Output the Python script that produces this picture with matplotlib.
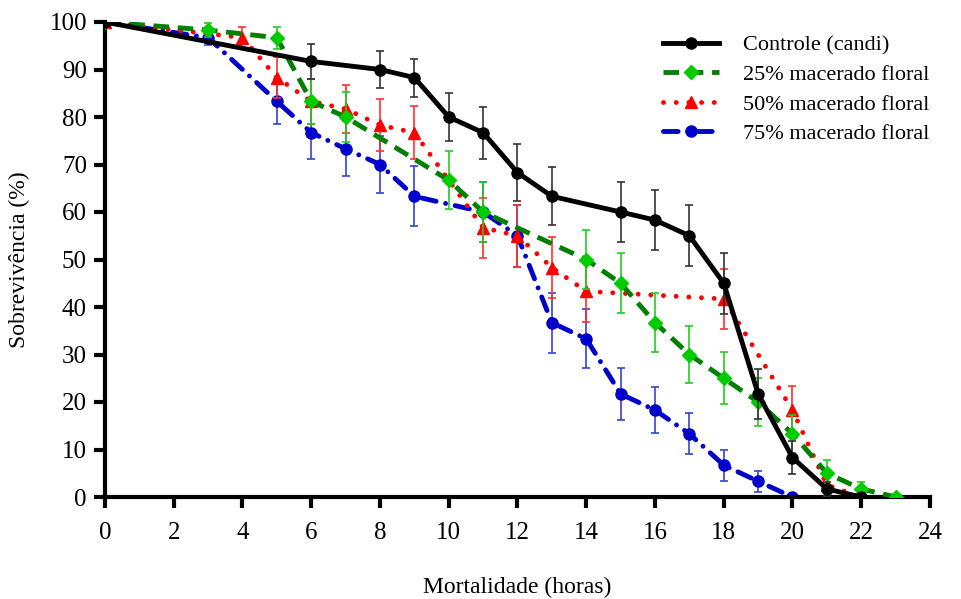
import numpy as np
import matplotlib.pyplot as plt

# Survival data (hours vs % survival, with error)
x_ctrl = [0, 6, 8, 9, 10, 11, 12, 13, 15, 16, 17, 18, 19, 20, 21, 22]
y_ctrl = [100, 91.7, 90, 88.3, 80, 76.7, 68.3, 63.3, 60, 58.3, 55, 45, 21.7, 8.3, 1.7, 0]
e_ctrl = [0, 3.6, 3.8, 4.0, 5.0, 5.5, 6.0, 6.1, 6.3, 6.4, 6.4, 6.4, 5.3, 3.5, 1.5, 0]

x_25 = [0, 3, 5, 6, 7, 10, 11, 14, 15, 16, 17, 18, 19, 20, 21, 22, 23]
y_25 = [100, 98.3, 96.7, 83.3, 80, 66.7, 60, 50, 45, 36.7, 30, 25, 20, 13.3, 5, 1.7, 0]
e_25 = [0, 1.5, 2.3, 4.7, 5.2, 6.1, 6.3, 6.3, 6.3, 6.2, 5.9, 5.5, 5.0, 4.0, 2.8, 1.5, 0]

x_50 = [0, 4, 5, 6, 7, 8, 9, 11, 12, 13, 14, 18, 20, 21, 22]
y_50 = [100, 96.7, 88.3, 83.3, 81.7, 78.3, 76.7, 56.7, 55, 48.3, 43.3, 41.7, 18.3, 2.5, 0]
e_50 = [0, 2.3, 4.3, 4.8, 5.0, 5.4, 5.6, 6.3, 6.5, 6.5, 6.4, 6.3, 5.0, 1.5, 0]

x_75 = [0, 3, 5, 6, 7, 8, 9, 11, 12, 13, 14, 15, 16, 17, 18, 19, 20]
y_75 = [100, 96.7, 83.3, 76.7, 73.3, 70, 63.3, 60, 55, 36.7, 33.3, 21.7, 18.3, 13.3, 6.7, 3.3, 0]
e_75 = [0, 1.5, 4.8, 5.5, 5.8, 6.0, 6.3, 6.3, 6.5, 6.3, 6.2, 5.4, 4.9, 4.3, 3.3, 2.2, 0]

plt.rcParams['font.family'] = ['Liberation Serif', 'DejaVu Serif']

fig = plt.figure(figsize=(9.62, 5.99), dpi=100)
ax = fig.add_axes([105/962, 102/599, 825/962, 475/599])

ax.errorbar(x_75, y_75, yerr=e_75, color='#0000cc', ecolor='#3344cc', elinewidth=1.2,
            capsize=3, capthick=1.2, marker='o', markersize=8, lw=3.5,
            linestyle=(0, (3, 2, 0.01, 2)), dash_capstyle='round',
            label='75% macerado floral', zorder=2)
ax.errorbar(x_50, y_50, yerr=e_50, color='#ff0000', ecolor='#ff3030', elinewidth=1.2,
            capsize=3, capthick=1.2, marker='^', markersize=9, lw=3.5,
            linestyle=(0, (0.01, 2.6)), dash_capstyle='round',
            label='50% macerado floral', zorder=3)
ax.errorbar(x_25, y_25, yerr=e_25, color='#008000', ecolor='#22cc22', elinewidth=1.2,
            capsize=3, capthick=1.2, marker='D', markersize=7, mfc='#00cc00', mec='#00cc00',
            lw=3.5, linestyle=(0, (3.2, 1.8)),
            label='25% macerado floral', zorder=4)
ax.errorbar(x_ctrl, y_ctrl, yerr=e_ctrl, color='black', ecolor='#333333', elinewidth=1.2,
            capsize=3, capthick=1.2, marker='o', markersize=8, lw=3.5,
            label='Controle (candi)', zorder=5)

ax.set_xlim(0, 24)
ax.set_ylim(0, 100)
ax.set_xticks(np.arange(0, 25, 2))
ax.set_yticks(np.arange(0, 101, 10))
for s in ['top', 'right']:
    ax.spines[s].set_visible(False)
for s in ['left', 'bottom']:
    ax.spines[s].set_linewidth(3)
ax.tick_params(width=3, length=8, labelsize=18)
ax.tick_params(axis='x', pad=10)
ax.tick_params(axis='y', pad=5)

ax.set_ylabel('Sobrevivência (%)', fontsize=17, labelpad=14)
ax.set_xlabel('Mortalidade (horas)', fontsize=17, labelpad=24)

handles, labels = ax.get_legend_handles_labels()
order = [3, 2, 1, 0]
leg = fig.legend([handles[i][0] for i in order], [labels[i] for i in order],
                 loc='upper left', bbox_to_anchor=(652/962, 1 - 24/599),
                 frameon=False, fontsize=16, handlelength=2.5, handletextpad=1.1,
                 labelspacing=0.4, borderpad=0)

fig.savefig('out.png', dpi=100)
